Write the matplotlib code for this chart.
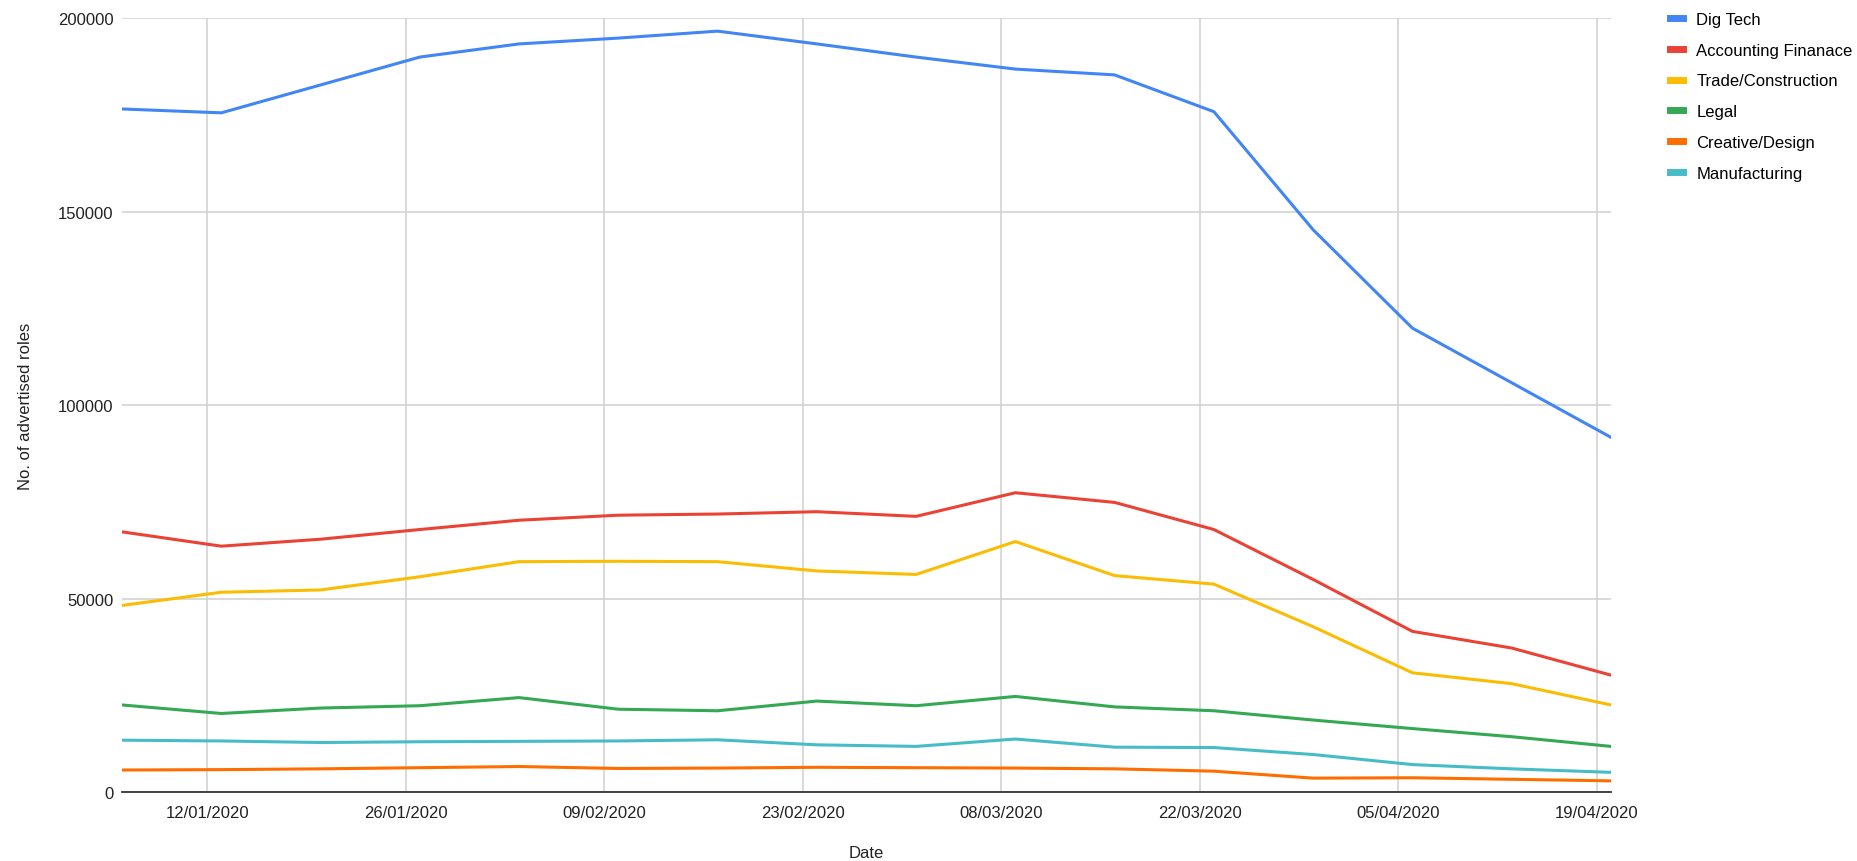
import matplotlib

matplotlib.use("Agg")
import matplotlib.pyplot as plt
import matplotlib.dates as mdates
import pandas as pd

plt.rcParams["font.family"] = ["Liberation Sans", "DejaVu Sans"]

# weekly snapshot dates (Mondays)
dates = [
    "2020-01-06", "2020-01-13", "2020-01-20", "2020-01-27",
    "2020-02-03", "2020-02-10", "2020-02-17", "2020-02-24",
    "2020-03-02", "2020-03-09", "2020-03-16", "2020-03-23",
    "2020-03-30", "2020-04-06", "2020-04-13", "2020-04-20",
]

dig_tech = [176500, 175500, 182700, 189900, 193300, 194800, 196600, 193300,
            189900, 186800, 185300, 175800, 145300, 119900, 105800, 91700]
accounting = [67300, 63600, 65400, 67900, 70300, 71600, 71900, 72500,
              71300, 77400, 74900, 67900, 55000, 41600, 37300, 30300]
trade = [48300, 51700, 52300, 55700, 59600, 59700, 59600, 57200,
         56300, 64800, 56000, 53800, 42800, 30900, 28100, 22600]
legal = [22600, 20400, 21800, 22400, 24500, 21500, 21100, 23600,
         22400, 24800, 22100, 21100, 18700, 16500, 14400, 11900]
creative = [5800, 5900, 6100, 6400, 6700, 6200, 6300, 6500,
            6400, 6300, 6100, 5500, 3700, 3800, 3400, 3000]
manufacturing = [13500, 13300, 12900, 13100, 13200, 13300, 13600, 12300,
                 11900, 13800, 11700, 11600, 9800, 7200, 6100, 5200]

series = [
    ("Dig Tech", dig_tech, "#4285F4"),
    ("Accounting Finanace", accounting, "#EA4335"),
    ("Trade/Construction", trade, "#FBBC04"),
    ("Legal", legal, "#34A853"),
    ("Creative/Design", creative, "#FF6D01"),
    ("Manufacturing", manufacturing, "#46BDC6"),
]

tick_dates = ["2020-01-12", "2020-01-26", "2020-02-09", "2020-02-23",
              "2020-03-08", "2020-03-22", "2020-04-05", "2020-04-19"]
y_ticks = [0, 50000, 100000, 150000, 200000]

x = pd.to_datetime(dates)
fig = plt.figure(figsize=(18.57, 8.62), dpi=100)
ax = fig.add_axes([0.0657, 0.0795, 0.8018, 0.8985])

for name, values, color in series:
    ax.plot(x, values, color=color, lw=2.2, label=name, solid_joinstyle="round")

ax.set_xlim(x[0], x[-1])
ax.set_ylim(0, 200000)
ax.set_yticks(y_ticks)
ax.set_yticklabels([str(v) for v in y_ticks])
ax.set_xticks(pd.to_datetime(tick_dates))
ax.xaxis.set_major_formatter(mdates.DateFormatter("%d/%m/%Y"))
ax.tick_params(axis="both", length=0, labelsize=12, colors="#222222")
ax.tick_params(axis="x", pad=9)
ax.tick_params(axis="y", pad=6)

ax.grid(True, color="#d0d0d0", lw=1.1)
ax.set_axisbelow(True)
for side in ("top", "right", "left"):
    ax.spines[side].set_visible(False)
ax.spines["bottom"].set_color("#333333")
ax.spines["bottom"].set_linewidth(1.3)
ax.spines["bottom"].set_zorder(5)

fig.text(0.0135, 0.5285, "No. of advertised roles", rotation=90,
         ha="center", va="center", fontsize=12, color="#222222")
fig.text(0.4665, 0.0100, "Date", ha="center", va="center",
         fontsize=12, color="#222222")

fig.legend(loc="upper left", bbox_to_anchor=(0.8955, 0.993), frameon=False,
           fontsize=12, handlelength=0.8, handletextpad=0.8,
           labelspacing=0.95, borderaxespad=0)
for line in fig.legends[0].get_lines():
    line.set_linewidth(5)

fig.savefig("out.png", dpi=100)
plt.close(fig)
